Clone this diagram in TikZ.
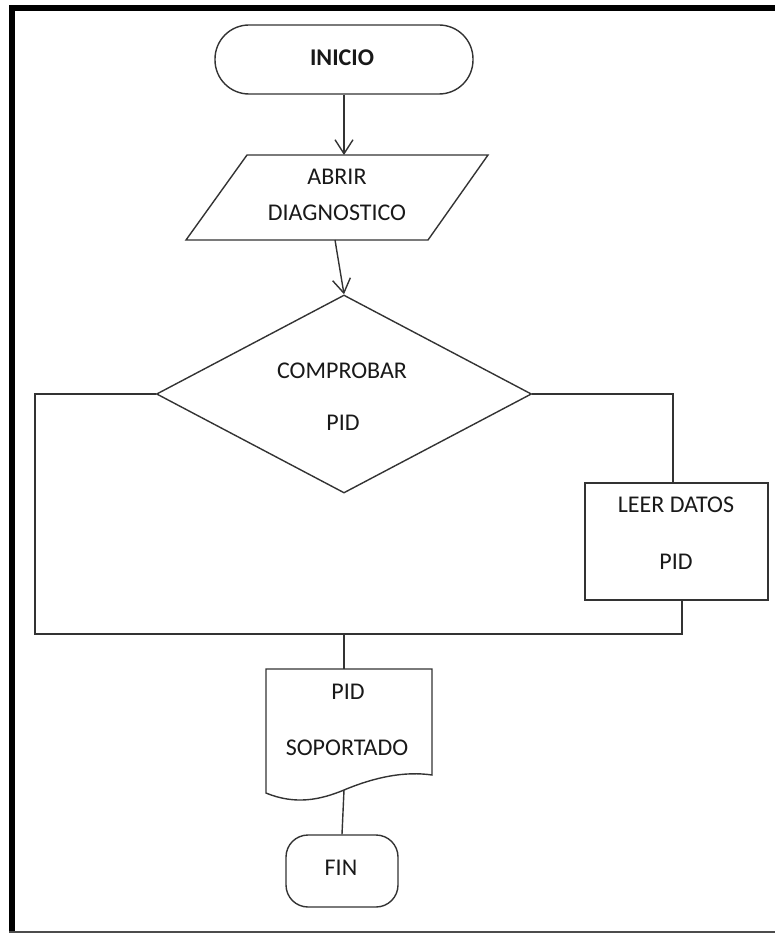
\documentclass[tikz,border=0pt]{standalone}
\usepackage{fontspec}
\setmainfont{Carlito}
\usetikzlibrary{arrows.meta,shapes.geometric,calc}
\begin{document}
\begin{tikzpicture}[x=1pt,y=-1pt,
  shape line/.style={draw=black!80, line width=1.4pt},
  link/.style={draw=black!80, line width=1.4pt},
  flow/.style={link, -{Straight Barb[length=14pt,width=18pt]}},
  lbl/.style={font=\fontsize{24}{29}\selectfont, text=black!90, inner sep=0pt},
  terminal/.style={shape line, rectangle, inner sep=0pt},
]
\useasboundingbox (0,0) rectangle (774,933);

% page frame
\draw[line width=6pt, miter limit=10] (12,940) -- (12,8) -- (780,8);
\draw[line width=6pt, black!70] (9,934) -- (780,934);

% start terminal
\node[terminal, minimum width=258pt, minimum height=69pt, rounded corners=34pt] (inicio) at (344,59.5) {};
\node[lbl, font=\fontsize{24}{29}\selectfont\bfseries] (inicioTxt) at (342,58) {INICIO};

% input / output block
\draw[shape line] (247,155) -- (488,155) -- (428,240) -- (186,240) -- cycle;
\coordinate (abrirIn) at (344,155);
\coordinate (abrirOut) at (335,240);
\node[lbl] (abrirA) at (337,177) {ABRIR};
\node[lbl] (abrirB) at (337,213) {DIAGNOSTICO};

% decision
\node[diamond, shape line, aspect=2, inner sep=0pt, minimum width=375pt, minimum height=198pt] (comp) at (344,394) {};
\node[lbl] (compA) at (342,371) {COMPROBAR};
\node[lbl] (compB) at (343,423) {PID};

% process
\node[shape line, rectangle, inner sep=0pt, minimum width=183pt, minimum height=117pt] (leer) at (676.5,541.5) {};
\node[lbl] (leerA) at (676,505) {LEER DATOS};
\node[lbl] (leerB) at (676,562) {PID};
\coordinate (leerIn) at ($(leer.north)+(-3.5,0)$);
\coordinate (leerOut) at ($(leer.south)+(5.5,0)$);

% document
\draw[shape line] (266,669) -- (432,669) -- (432,775)
  .. controls (405,771) and (375,777) .. (344,790)
  .. controls (320,800) and (295,805) .. (266,793) -- cycle;
\coordinate (docIn) at (344,669);
\coordinate (docOut) at (344,790);
\node[lbl] (docA) at (348,692) {PID};
\node[lbl] (docB) at (347,748) {SOPORTADO};

% end terminal
\node[terminal, minimum width=112pt, minimum height=72pt, rounded corners=22pt] (fin) at (342,871) {};
\node[lbl] (finTxt) at (341,868) {FIN};

% connectors
\coordinate (loopL) at (35,634);
\coordinate (join) at (344,634);
\draw[flow] (inicio.south) -- (abrirIn);
\draw[flow] (abrirOut) -- (comp.north);
\draw[link] (comp.west) -| (loopL) -| (leerOut);
\draw[link] (comp.east) -| (leerIn);
\draw[link] (join) -- (docIn);
\draw[link] (docOut) -- (fin.north);
\end{tikzpicture}
\end{document}
